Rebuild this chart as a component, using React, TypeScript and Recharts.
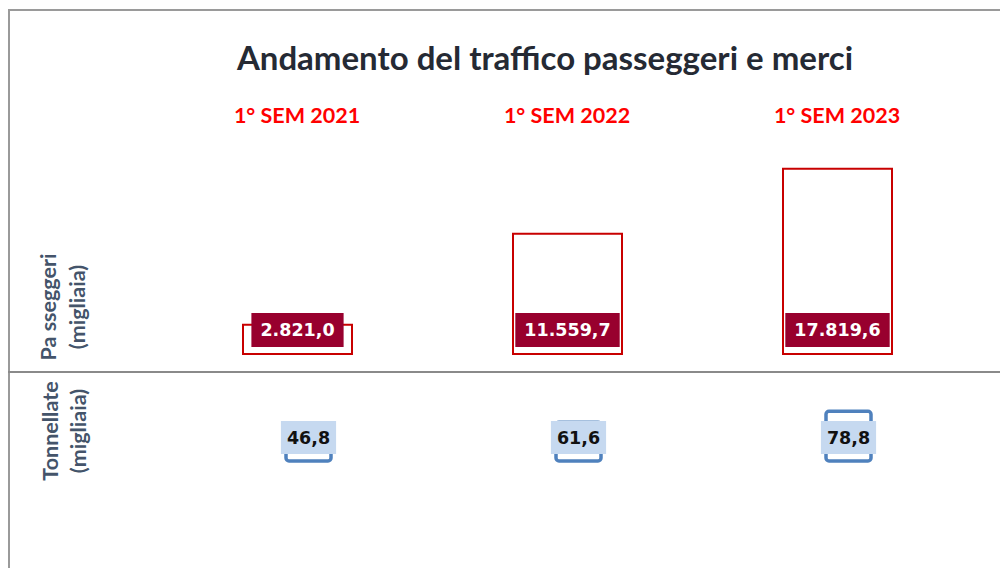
import { Bar, BarChart, LabelList, XAxis, YAxis } from 'recharts';

const categories = ['1° SEM 2021', '1° SEM 2022', '1° SEM 2023'];
const passeggeri = [2821.0, 11559.7, 17819.6];
const tonnellate = [46.8, 61.6, 78.8];

const paxData = categories.map((name, i) => ({ name, value: passeggeri[i] }));
const tonData = categories.map((name, i) => ({ name, value: tonnellate[i] }));

const TITLE_FONT = 'Lato, "Open Sans", sans-serif';
const LABEL_FONT = '"DejaVu Sans", Verdana, sans-serif';
const LABEL_SIZE = 17.5;

// italian number format: 17.819,6
function fmt(v: number): string {
  const [int, dec] = v.toFixed(1).split('.');
  return int.replace(/\B(?=(\d{3})+(?!\d))/g, '.') + ',' + dec;
}

function textWidth(s: string, size: number): number {
  let w = 0;
  for (const ch of s) w += /\d/.test(ch) ? 0.696 * size : 0.38 * size;
  return w;
}

function HeaderTick(props: any) {
  const { x, y, payload } = props;
  return (
    <text x={x} y={y} dy={-15} textAnchor="middle" fill="#ff0000" fontFamily={TITLE_FONT} fontWeight="bold" fontSize={21.5}>
      {payload.value}
    </text>
  );
}

function PaxLabel(props: any) {
  const { x, y, width, height, value } = props;
  const cx = Number(x) + Number(width) / 2;
  const bottom = Number(y) + Number(height);
  const text = fmt(Number(value));
  const w = textWidth(text, LABEL_SIZE) + 18;
  return (
    <g>
      <rect x={cx - w / 2} y={bottom - 41} width={w} height={34} fill="#98002e" />
      <text x={cx} y={bottom - 24} textAnchor="middle" dominantBaseline="central" fill="#ffffff" fontFamily={LABEL_FONT} fontWeight="bold" fontSize={LABEL_SIZE}>
        {text}
      </text>
    </g>
  );
}

function TonLabel(props: any) {
  const { x, y, width, height, value } = props;
  const cx = Number(x) + Number(width) / 2;
  const bottom = Number(y) + Number(height);
  const text = fmt(Number(value));
  const w = textWidth(text, LABEL_SIZE) + 12;
  return (
    <g>
      <rect x={cx - w / 2} y={bottom - 40} width={w} height={33} fill="#c6d9f0" />
      <text x={cx} y={bottom - 23} textAnchor="middle" dominantBaseline="central" fill="#111111" fontFamily={LABEL_FONT} fontWeight="bold" fontSize={LABEL_SIZE}>
        {text}
      </text>
    </g>
  );
}

export default function App() {
  return (
    <div style={{ position: 'absolute', left: 0, top: 0, width: 1000, height: 568, background: '#fff', overflow: 'hidden' }}>
      {/* frame */}
      <div style={{ position: 'absolute', left: 8, top: 9, width: 2, height: 559, background: '#9a9a9a' }} />
      <div style={{ position: 'absolute', left: 8, top: 9, width: 992, height: 2, background: '#9a9a9a' }} />
      <div style={{ position: 'absolute', left: 8, top: 371, width: 992, height: 2, background: '#8a8a8a' }} />

      <div style={{ position: 'absolute', left: 0, top: 0 }}>
        <BarChart width={1000} height={372} data={paxData} margin={{ top: 106, right: 28, bottom: 18, left: 162 }}>
          <XAxis dataKey="name" orientation="top" axisLine={false} tickLine={false} height={40} interval={0} tick={HeaderTick} />
          <YAxis hide domain={[0, 20000]} />
          <Bar dataKey="value" fill="#ffffff" stroke="#c80000" strokeWidth={2} barSize={109} isAnimationActive={false}>
            <LabelList dataKey="value" content={PaxLabel} />
          </Bar>
        </BarChart>
      </div>

      <div style={{ position: 'absolute', left: 0, top: 372 }}>
        <BarChart width={1000} height={196} data={tonData} margin={{ top: 26, right: 17, bottom: 107, left: 173 }}>
          <XAxis dataKey="name" hide />
          <YAxis hide domain={[0, 100]} />
          <Bar dataKey="value" fill="#ffffff" stroke="#4f81bd" strokeWidth={3.5} radius={3} barSize={45} isAnimationActive={false}>
            <LabelList dataKey="value" content={TonLabel} />
          </Bar>
        </BarChart>
      </div>

      <svg width={1000} height={568} style={{ position: 'absolute', left: 0, top: 0, pointerEvents: 'none' }}>
        <text x={545} y={57} textAnchor="middle" dominantBaseline="central" fill="#252a34" fontFamily={TITLE_FONT} fontWeight="bold" fontSize={33}>
          Andamento del traffico passeggeri e merci
        </text>
        <g fill="#44546a" fontFamily={TITLE_FONT} fontWeight="bold" fontSize={21.5}>
          <text x={48} y={307} transform="rotate(-90 48 307)" textAnchor="middle" dominantBaseline="central">Pa sseggeri</text>
          <text x={77} y={307} transform="rotate(-90 77 307)" textAnchor="middle" dominantBaseline="central">(migliaia)</text>
          <text x={50} y={431} transform="rotate(-90 50 431)" textAnchor="middle" dominantBaseline="central">Tonnellate</text>
          <text x={78} y={431} transform="rotate(-90 78 431)" textAnchor="middle" dominantBaseline="central">(migliaia)</text>
        </g>
      </svg>
    </div>
  );
}
